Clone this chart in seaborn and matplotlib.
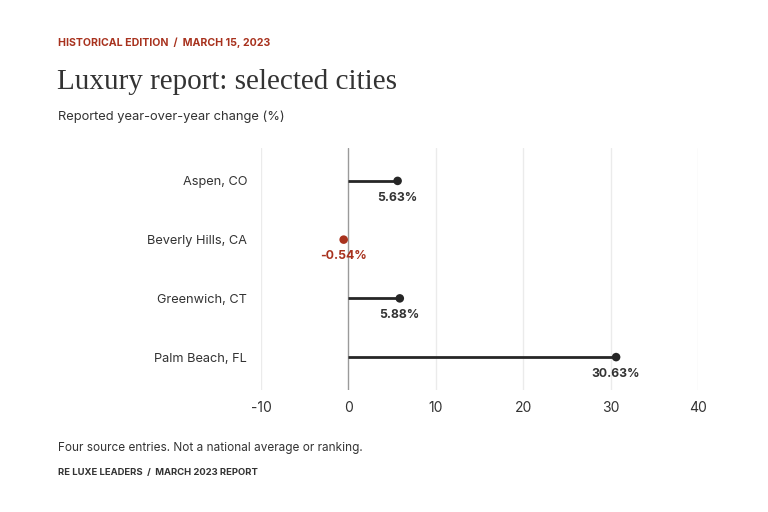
import pandas as pd
import matplotlib.pyplot as plt
import seaborn as sns

cities = ["Aspen, CO", "Beverly Hills, CA", "Greenwich, CT", "Palm Beach, FL"]
change = [5.63, -0.54, 5.88, 30.63]
x_ticks = [-10, 0, 10, 20, 30, 40]

DARK = "#262626"
RED = "#a8321e"
GREY = "#333333"

df = pd.DataFrame({"city": cities, "change": change})
df["color"] = [RED if v < 0 else DARK for v in df["change"]]

sns.set_theme(style="white")
plt.rcParams["font.family"] = ["Inter", "DejaVu Sans"]

fig = plt.figure(figsize=(7.68, 5.12), dpi=100)
ax = fig.add_axes([261 / 768, 1 - 390 / 512, 437 / 768, 242 / 512])

# stems
for i, row in df.iterrows():
    if row["change"] > 0:
        ax.hlines(i, 0, row["change"], color=row["color"], lw=2, zorder=3)

sns.scatterplot(data=df, x="change", y="city", hue="city",
                palette=dict(zip(df["city"], df["color"])),
                s=38, edgecolor="none", legend=False, zorder=4, ax=ax)

for i, row in df.iterrows():
    ax.annotate(f"{row['change']:.2f}%", (row["change"], i),
                xytext=(0, -12), textcoords="offset points",
                ha="center", va="center", fontsize=8.8, fontweight="bold",
                color=RED if row["change"] < 0 else GREY)

ax.set_xlim(-10, 40)
ax.set_ylim(3.56, -0.56)
ax.set_xticks(x_ticks)
ax.set_xticklabels([str(t) for t in x_ticks])
for t in x_ticks:
    ax.axvline(t, color="#9a9a9a" if t == 0 else "#ebebeb", lw=1, zorder=1)
for s in ax.spines.values():
    s.set_visible(False)
ax.tick_params(axis="both", length=0, colors=GREY)
ax.tick_params(axis="x", pad=8, labelsize=10)
ax.tick_params(axis="y", pad=10, labelsize=9.2)
ax.set_xlabel("")
ax.set_ylabel("")

fig.text(58 / 768, 1 - 43 / 512, "HISTORICAL EDITION  /  MARCH 15, 2023",
         color=RED, fontsize=7.6, fontweight="bold", va="center")
fig.text(57 / 768, 1 - 82 / 512, "Luxury report: selected cities",
         family=["Liberation Serif"], fontsize=21, color=GREY, va="center")
fig.text(58 / 768, 1 - 117 / 512, "Reported year-over-year change (%)",
         fontsize=9.3, color=GREY, va="center")
fig.text(58 / 768, 1 - 448 / 512, "Four source entries. Not a national average or ranking.",
         fontsize=8.5, color=GREY, va="center")
fig.text(58 / 768, 1 - 472 / 512, "RE LUXE LEADERS  /  MARCH 2023 REPORT",
         fontsize=6.8, fontweight="bold", color=GREY, va="center")

fig.savefig("out.png", dpi=100, facecolor="white")
